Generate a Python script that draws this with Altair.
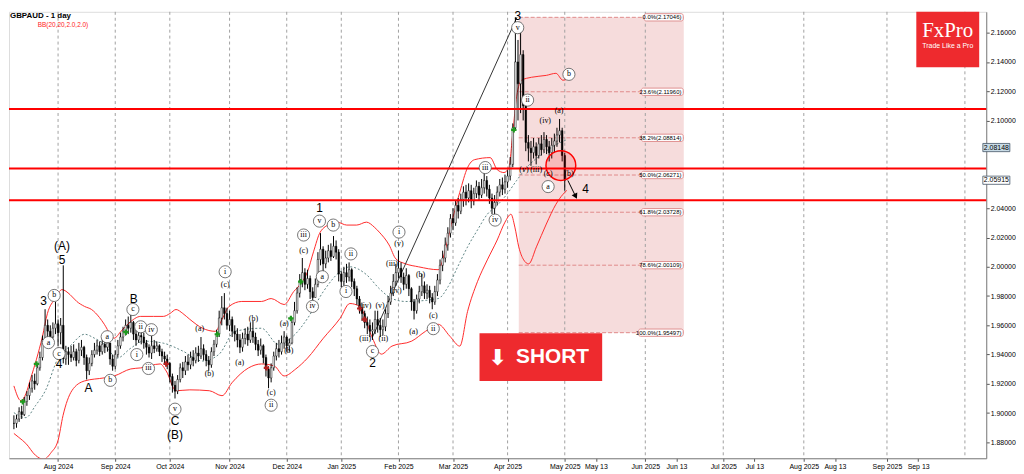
import altair as alt
import pandas as pd

# ---------------- data ----------------
BAR0 = 3  # index of first drawn daily bar
closes = [
    1.8930, 1.8960, 1.9010, 1.8990, 1.9080, 1.9120, 1.9170, 1.9220, 1.9200, 1.9310,
    1.9380, 1.9500, 1.9600, 1.9560, 1.9520, 1.9580, 1.9610, 1.9550, 1.9600, 1.9370,
    1.9420, 1.9400, 1.9380, 1.9420, 1.9360, 1.9430, 1.9450, 1.9380, 1.9290, 1.9340,
    1.9400, 1.9430, 1.9460, 1.9420, 1.9470, 1.9450, 1.9480, 1.9370, 1.9320, 1.9400,
    1.9460, 1.9520, 1.9560, 1.9600, 1.9580, 1.9620, 1.9540, 1.9500, 1.9530, 1.9520,
    1.9480, 1.9450, 1.9410, 1.9460, 1.9440, 1.9460, 1.9420, 1.9390, 1.9370, 1.9340,
    1.9250, 1.9190, 1.9150, 1.9230, 1.9310, 1.9290, 1.9350, 1.9330, 1.9380, 1.9360,
    1.9410, 1.9390, 1.9440, 1.9400, 1.9360, 1.9330, 1.9420, 1.9470, 1.9540, 1.9650,
    1.9720, 1.9680, 1.9600, 1.9640, 1.9560, 1.9540, 1.9500, 1.9450, 1.9510, 1.9540,
    1.9500, 1.9560, 1.9520, 1.9470, 1.9430, 1.9460, 1.9380, 1.9300, 1.9240, 1.9310,
    1.9390, 1.9440, 1.9420, 1.9480, 1.9520, 1.9460, 1.9480, 1.9620, 1.9700, 1.9820,
    1.9900, 1.9960, 1.9880, 1.9920, 1.9830, 1.9790, 1.9880, 2.0050, 2.0120, 2.0020,
    2.0060, 2.0110, 2.0070, 2.0140, 2.0100, 1.9950, 1.9900, 1.9960, 1.9930, 1.9980,
    1.9900, 1.9850, 1.9780, 1.9720, 1.9680, 1.9620, 1.9600, 1.9560, 1.9570, 1.9640,
    1.9600, 1.9570, 1.9590, 1.9680, 1.9760, 1.9820, 1.9900, 1.9960, 1.9990, 1.9930,
    1.9880, 1.9940, 1.9850, 1.9760, 1.9700, 1.9780, 1.9830, 1.9870, 1.9820, 1.9840,
    1.9790, 1.9760, 1.9830, 1.9910, 2.0010, 2.0060, 2.0150, 2.0230, 2.0330, 2.0300,
    2.0420, 2.0380, 2.0460, 2.0510, 2.0470, 2.0520, 2.0450, 2.0500, 2.0550, 2.0490,
    2.0540, 2.0590, 2.0530, 2.0470, 2.0400, 2.0440, 2.0510, 2.0560, 2.0530, 2.0580,
    2.0620, 2.0700, 2.0950, 2.1400, 2.1250, 2.1450, 2.1100, 2.0850, 2.0810, 2.0780,
    2.0820, 2.0760, 2.0840, 2.0800, 2.0870, 2.0820, 2.0780, 2.0830, 2.0860, 2.0900,
    2.0930, 2.0760, 2.0592,
]
highs = [
    1.8985, 1.8990, 1.9040, 1.9050, 1.9110, 1.9150, 1.9210, 1.9260, 1.9270, 1.9340,
    1.9420, 1.9530, 1.9710, 1.9640, 1.9600, 1.9620, 1.9760, 1.9640, 1.9650, 2.0010,
    1.9460, 1.9450, 1.9460, 1.9470, 1.9440, 1.9480, 1.9500, 1.9460, 1.9400, 1.9380,
    1.9430, 1.9480, 1.9500, 1.9490, 1.9510, 1.9520, 1.9530, 1.9480, 1.9400, 1.9430,
    1.9500, 1.9550, 1.9590, 1.9640, 1.9660, 1.9680, 1.9630, 1.9570, 1.9570, 1.9560,
    1.9550, 1.9500, 1.9470, 1.9530, 1.9500, 1.9490, 1.9470, 1.9440, 1.9420, 1.9400,
    1.9350, 1.9270, 1.9220, 1.9260, 1.9340, 1.9350, 1.9390, 1.9400, 1.9420, 1.9430,
    1.9450, 1.9460, 1.9520, 1.9470, 1.9430, 1.9390, 1.9450, 1.9500, 1.9570, 1.9700,
    1.9800, 1.9820, 1.9720, 1.9700, 1.9660, 1.9600, 1.9580, 1.9540, 1.9550, 1.9580,
    1.9590, 1.9620, 1.9630, 1.9550, 1.9500, 1.9510, 1.9470, 1.9400, 1.9320, 1.9340,
    1.9420, 1.9480, 1.9500, 1.9530, 1.9560, 1.9530, 1.9510, 1.9650, 1.9760, 1.9860,
    1.9950, 2.0060, 1.9990, 1.9980, 1.9940, 1.9860, 1.9920, 2.0100, 2.0230, 2.0140,
    2.0110, 2.0150, 2.0160, 2.0210, 2.0180, 2.0120, 1.9970, 2.0000, 2.0020, 2.0030,
    1.9990, 1.9920, 1.9870, 1.9800, 1.9750, 1.9700, 1.9660, 1.9640, 1.9620, 1.9700,
    1.9700, 1.9650, 1.9640, 1.9710, 1.9800, 1.9870, 1.9950, 2.0020, 2.0110, 2.0030,
    1.9960, 1.9990, 1.9950, 1.9860, 1.9780, 1.9810, 1.9870, 1.9950, 1.9900, 1.9880,
    1.9870, 1.9820, 1.9870, 1.9950, 2.0050, 2.0110, 2.0200, 2.0270, 2.0360, 2.0400,
    2.0450, 2.0470, 2.0500, 2.0550, 2.0560, 2.0570, 2.0560, 2.0540, 2.0590, 2.0580,
    2.0600, 2.0650, 2.0620, 2.0560, 2.0500, 2.0490, 2.0550, 2.0600, 2.0610, 2.0630,
    2.0660, 2.0750, 2.0980, 2.1705, 2.1550, 2.1650, 2.1480, 2.1130, 2.0900, 2.0860,
    2.0880, 2.0850, 2.0880, 2.0900, 2.0920, 2.0900, 2.0860, 2.0880, 2.0910, 2.0950,
    2.1010, 2.0950, 2.0780,
]
lows = [
    1.8890, 1.8900, 1.8940, 1.8960, 1.8980, 1.9050, 1.9090, 1.9140, 1.9160, 1.9190,
    1.9290, 1.9360, 1.9480, 1.9520, 1.9490, 1.9500, 1.9540, 1.9460, 1.9470, 1.9340,
    1.9330, 1.9330, 1.9350, 1.9360, 1.9320, 1.9340, 1.9390, 1.9330, 1.9230, 1.9260,
    1.9320, 1.9380, 1.9400, 1.9390, 1.9400, 1.9410, 1.9420, 1.9330, 1.9290, 1.9300,
    1.9380, 1.9440, 1.9490, 1.9530, 1.9540, 1.9550, 1.9500, 1.9460, 1.9480, 1.9470,
    1.9440, 1.9400, 1.9380, 1.9370, 1.9410, 1.9420, 1.9390, 1.9350, 1.9340, 1.9300,
    1.9210, 1.9140, 1.9100, 1.9130, 1.9210, 1.9240, 1.9260, 1.9290, 1.9300, 1.9320,
    1.9340, 1.9350, 1.9370, 1.9360, 1.9320, 1.9290, 1.9310, 1.9390, 1.9450, 1.9520,
    1.9600, 1.9640, 1.9570, 1.9560, 1.9520, 1.9490, 1.9450, 1.9410, 1.9420, 1.9470,
    1.9460, 1.9480, 1.9480, 1.9430, 1.9390, 1.9400, 1.9340, 1.9250, 1.9170, 1.9210,
    1.9290, 1.9360, 1.9380, 1.9400, 1.9440, 1.9420, 1.9420, 1.9470, 1.9600, 1.9680,
    1.9790, 1.9860, 1.9840, 1.9850, 1.9780, 1.9760, 1.9790, 1.9860, 2.0010, 1.9970,
    1.9990, 2.0030, 2.0040, 2.0060, 2.0050, 1.9900, 1.9860, 1.9870, 1.9890, 1.9900,
    1.9860, 1.9800, 1.9740, 1.9680, 1.9630, 1.9580, 1.9540, 1.9520, 1.9500, 1.9540,
    1.9550, 1.9520, 1.9530, 1.9560, 1.9650, 1.9740, 1.9800, 1.9870, 1.9920, 1.9890,
    1.9840, 1.9850, 1.9800, 1.9700, 1.9640, 1.9680, 1.9750, 1.9800, 1.9780, 1.9780,
    1.9750, 1.9710, 1.9740, 1.9800, 1.9880, 1.9970, 2.0030, 2.0110, 2.0200, 2.0250,
    2.0280, 2.0330, 2.0360, 2.0410, 2.0420, 2.0440, 2.0400, 2.0420, 2.0470, 2.0450,
    2.0470, 2.0500, 2.0480, 2.0430, 2.0360, 2.0350, 2.0420, 2.0480, 2.0490, 2.0500,
    2.0540, 2.0590, 2.0680, 2.0930, 2.1000, 2.1050, 2.1000, 2.0790, 2.0720, 2.0690,
    2.0740, 2.0700, 2.0740, 2.0760, 2.0780, 2.0770, 2.0720, 2.0740, 2.0780, 2.0820,
    2.0850, 2.0720, 2.0520,
]

# Bollinger band (20, 2.0): bar position, price
bb_up_x = [3.0, 5.7, 7.6, 9.4, 11.7, 14.0, 15.9, 18.9, 21.5, 24.6, 27.2, 30.2, 32.9, 35.9, 37.8,
           40.1, 41.6, 44.2, 47.2, 51.8, 56.7, 60.5, 63.1, 65.4, 68.0, 70.7, 75.6, 80.5, 83.1,
           85.8, 90.7, 98.3, 102.0, 107.0, 110.7, 113.4, 116.0, 118.3, 120.9, 124.7, 127.4,
           131.1, 134.9, 138.7, 141.7, 143.6, 147.4, 150.0, 153.8, 158.7, 166.3, 169.3, 172.0,
           174.6, 177.6, 180.3, 186.3, 189.0, 191.6, 193.5, 195.0, 196.5, 198.4, 202.2, 207.9,
           211.6, 214.3, 215.8]
bb_up_y = [1.9186, 1.9085, 1.9132, 1.9234, 1.9369, 1.9525, 1.9681, 1.9783, 1.9844, 1.9810, 1.9763,
           1.9729, 1.9708, 1.9654, 1.9607, 1.9539, 1.9512, 1.9559, 1.9614, 1.9661, 1.9661, 1.9661,
           1.9681, 1.9708, 1.9681, 1.9641, 1.9580, 1.9559, 1.9641, 1.9729, 1.9763, 1.9763, 1.9783,
           1.9742, 1.9831, 1.9885, 1.9966, 2.0102, 2.0237, 2.0292, 2.0305, 2.0285, 2.0285, 2.0305,
           2.0271, 2.0237, 2.0149, 2.0054, 2.0020, 2.0000, 1.9980, 2.0136, 2.0339, 2.0509, 2.0678,
           2.0732, 2.0746, 2.0664, 2.0644, 2.0678, 2.0915, 2.1166, 2.1275, 2.1295, 2.1308, 2.1322,
           2.1275, 2.1281]
bb_mid_x = [3.0, 7.6, 11.3, 15.1, 20.0, 24.6, 30.2, 34.0, 37.8, 42.7, 48.0, 52.9, 60.5, 68.0, 75.6,
            82.0, 88.1, 98.3, 104.7, 109.6, 116.0, 122.1, 128.5, 132.3, 138.7, 143.6, 148.5,
            153.8, 166.3, 170.1, 173.8, 177.6, 181.4, 185.2, 189.0, 192.7, 196.5, 200.3, 206.0,
            211.6, 215.8]
bb_mid_y = [1.9003, 1.8969, 1.9051, 1.9153, 1.9376, 1.9458, 1.9539, 1.9512, 1.9471, 1.9376, 1.9444,
            1.9492, 1.9478, 1.9424, 1.9356, 1.9403, 1.9559, 1.9580, 1.9471, 1.9512, 1.9647, 1.9831,
            1.9966, 2.0000, 1.9946, 1.9851, 1.9783, 1.9763, 1.9783, 1.9864, 2.0000, 2.0136, 2.0251,
            2.0359, 2.0420, 2.0495, 2.0590, 2.0678, 2.0766, 2.0834, 2.0868]
bb_lo_x = [3.0, 4.9, 7.6, 11.3, 14.4, 17.4, 20.0, 21.9, 25.3, 30.2, 37.8, 41.6, 48.0, 51.8, 59.3,
           61.6, 65.4, 70.7, 78.2, 83.1, 86.9, 93.3, 98.3, 103.2, 107.0, 111.5, 116.0, 122.1,
           128.5, 132.3, 136.1, 141.0, 144.4, 148.5, 156.1, 161.4, 166.3, 170.8, 174.6, 177.6,
           181.4, 185.2, 189.0, 192.0, 194.3, 195.8, 197.3, 199.2, 201.1, 204.1, 207.9, 211.6,
           214.3, 215.8]
bb_lo_y = [1.8861, 1.8834, 1.8793, 1.8712, 1.8685, 1.8732, 1.8814, 1.8983, 1.9153, 1.9220, 1.9241,
           1.9254, 1.9302, 1.9309, 1.9336, 1.9288, 1.9153, 1.9159, 1.9153, 1.9119, 1.9207, 1.9309,
           1.9336, 1.9322, 1.9254, 1.9302, 1.9376, 1.9512, 1.9647, 1.9749, 1.9729, 1.9512, 1.9403,
           1.9458, 1.9492, 1.9559, 1.9607, 1.9525, 1.9458, 1.9695, 1.9898, 2.0047, 2.0183, 2.0305,
           2.0359, 2.0271, 2.0136, 2.0047, 2.0020, 2.0136, 2.0292, 2.0427, 2.0495, 2.0522]

# axis ticks (bar positions) and labels
x_ticks = [20, 42, 63, 86, 108, 129, 151, 172, 193, 215, 227, 246, 258, 276, 288, 307, 319, 339, 351]
x_labels = ["Aug 2024", "Sep 2024", "Oct 2024", "Nov 2024", "Dec 2024", "Jan 2025", "Feb 2025",
            "Mar 2025", "Apr 2025", "May 2025", "May 13", "Jun 2025", "Jun 13", "Jul 2025",
            "Jul 13", "Aug 2025", "Aug 13", "Sep 2025", "Sep 13"]
grid_ticks = [20, 42, 63, 86, 108, 129, 151, 172, 193, 215, 246, 276, 307, 339, 369]
y_ticks = [1.88, 1.90, 1.92, 1.94, 1.96, 1.98, 2.00, 2.02, 2.04, 2.10, 2.12, 2.14, 2.16]

# horizontal levels
h_levels = [2.1078, 2.0671, 2.0454]
fib_names = ["0.0%", "23.6%", "38.2%", "50.0%", "61.8%", "78.6%", "100.0%"]
fib_values = [2.17046, 2.11960, 2.08814, 2.06271, 2.03728, 2.00109, 1.95497]
fib_from, fib_to = 197.3, 260.8

# wave labels: text, bar position, price, kind
wave_text = ["3", "(A)", "5", "4", "A", "B", "C", "(B)", "1", "2", "3", "4",
             "b", "a", "c", "a", "b", "c", "i", "ii", "iii", "iv", "v", "i", "ii", "iii", "v",
             "a", "iv", "b", "i", "ii", "c", "i", "ii", "iii", "iv", "v", "ii", "a", "b",
             "(a)", "(b)", "(c)", "(a)", "(b)", "(c)", "(a)", "(b)", "(c)", "(iv)", "(v)",
             "(iii)", "(ii)", "(iii)", "(v)", "(iv)", "(a)", "(b)", "(c)", "(v)", "(iii)",
             "(iv)", "(c)", "(a)", "(b)"]
wave_b = [14.4, 21.5, 21.5, 20.4, 31.7, 49.1, 65.0, 65.0, 120.6, 141.0, 196.9, 223.0,
          18.5, 16.3, 20.4, 38.9, 40.1, 48.8, 50.3, 51.8, 54.8, 55.9, 65.0, 84.3, 102.0, 114.5,
          120.6, 121.7, 117.9, 125.9, 130.8, 132.7, 141.0, 151.2, 164.4, 184.4, 188.2, 196.9,
          200.7, 208.6, 216.6,
          74.5, 78.2, 84.3, 89.9, 95.2, 102.0, 107.0, 108.8, 114.5, 138.4, 143.9, 138.2, 145.2,
          148.5, 151.2, 150.0, 156.8, 159.5, 164.4, 199.3, 204.0, 207.5, 208.6, 212.8, 216.6]
wave_p = [1.9763, 2.0143, 2.0047, 1.9333, 1.9170, 1.9783, 1.8946, 1.8851, 2.0400, 1.9339, 2.1715,
          2.0529,
          1.9804, 1.9482, 1.9407, 1.9522, 1.9224, 1.9708, 1.9400, 1.9590, 1.9305, 1.9570, 1.9027,
          1.9966, 1.9054, 2.0217, 2.0312, 1.9932, 1.9729, 2.0285, 1.9831, 2.0088, 1.9421, 2.0237,
          1.9577, 2.0678, 2.0319, 2.1634, 2.1139, 2.0548, 2.1315,
          1.9577, 1.9265, 1.9878, 1.9339, 1.9641, 1.9136, 1.9607, 1.9421, 2.0108, 1.9729, 1.9729,
          1.9509, 1.9509, 2.0020, 2.0156, 1.9831, 1.9556, 1.9946, 1.9661, 2.0664, 2.0658, 2.0997,
          2.0631, 2.1064, 2.0631]
wave_kind = ["big"] * 12 + ["circ"] * 29 + ["paren"] * 25

buy_b = [6.4, 11.7, 46.1, 81.3, 109.6, 113.4, 195.4]
buy_p = [1.9078, 1.9336, 1.9553, 1.9539, 1.9647, 1.9898, 2.0936]
sell_b = [61.6, 100.2, 136.1, 137.9]
sell_p = [1.9336, 1.9309, 1.9715, 1.9641]

trend_b = [141.0, 196.6]
trend_p = [1.9520, 2.1705]
arrow_b = [216.2, 219.2]
arrow_p = [2.0590, 2.0481]
focus_b, focus_p = 213.5, 2.0692

price_tags = ["2.08148", "2.05915"]
price_vals = [2.08148, 2.05915]

# ---------------- chart ----------------
PLOT_W, PLOT_H = 985, 450
XS = alt.Scale(domain=[3.02, 375.3], nice=False, zero=False)
YS = alt.Scale(domain=[1.86915, 2.17424], nice=False, zero=False)

label_expr = " : ".join(f"datum.value == {t} ? '{l}'" for t, l in zip(x_ticks, x_labels)) + " : ''"
x_axis = alt.Axis(values=x_ticks, labelExpr=label_expr, grid=False, tickSize=3, tickColor="#555555",
                  labelFontSize=7, labelFont="Liberation Sans", labelColor="#000000", labelPadding=1,
                  domainColor="#808080", title=None, labelOverlap=False, labelFlush=False)
y_axis = alt.Axis(orient="right", values=y_ticks, format=".5f", grid=False, tickSize=3,
                  tickColor="#555555", labelFontSize=7, labelFont="Liberation Sans",
                  labelColor="#000000", labelPadding=1, domainColor="#808080", title=None,
                  labelOverlap=False, labelFlush=False)


def X(f):
    return alt.X(f, type="quantitative", scale=XS, axis=x_axis)


def Y(f):
    return alt.Y(f, type="quantitative", scale=YS, axis=y_axis)


n = len(closes)
df = pd.DataFrame({"i": [BAR0 + k for k in range(n)], "close": closes, "high": highs, "low": lows})
df["open"] = df["close"].shift(1).fillna(df["close"])
df["hi"] = df[["high", "open", "close"]].max(axis=1)
df["lo"] = df[["low", "open", "close"]].min(axis=1)

fib = pd.DataFrame({"name": fib_names, "v": fib_values})
fib["label"] = fib["name"] + "(" + fib["v"].map(lambda v: f"{v:.5f}") + ")"
fib["x0"] = fib_from
fib["x1"] = fib_to
fib_box = pd.DataFrame({"x0": [fib_from], "x1": [fib_to], "y0": [min(fib_values)], "y1": [max(fib_values)]})

grid = alt.Chart(pd.DataFrame({"t": grid_ticks})).mark_rule(
    color="#a0a0a0", strokeDash=[3, 3], strokeWidth=1).encode(x=X("t:Q"))

fib_area = alt.Chart(fib_box).mark_rect(fill="#f6dcdc").encode(
    x=X("x0:Q"), x2="x1:Q", y=Y("y0:Q"), y2="y1:Q")
fib_lines = alt.Chart(fib).mark_rule(color="#e08a8a", strokeDash=[4, 2], strokeWidth=1).encode(
    x=X("x0:Q"), x2="x1:Q", y=Y("v:Q"))
fib_tag_box = alt.Chart(fib).transform_calculate(
    bx0="260.4 - length(datum.label) * 1.08 - 0.8", bx1="260.6",
    by0="datum.v - 0.0025", by1="datum.v + 0.0025").mark_rect(
    fill="white", stroke="#e09090", strokeWidth=1, cornerRadius=2).encode(
    x=X("bx0:Q"), x2="bx1:Q", y=Y("by0:Q"), y2="by1:Q")
fib_tag_txt = alt.Chart(fib).transform_calculate(tx="259.9").mark_text(
    align="right", baseline="middle", fontSize=6, font="Liberation Sans", color="#000000").encode(
    x=X("tx:Q"), y=Y("v:Q"), text="label:N")

band_up = alt.Chart(pd.DataFrame({"b": bb_up_x, "p": bb_up_y})).mark_line(
    color="#ff2a2a", strokeWidth=1, interpolate="monotone", clip=True).encode(x=X("b:Q"), y=Y("p:Q"))
band_lo = alt.Chart(pd.DataFrame({"b": bb_lo_x, "p": bb_lo_y})).mark_line(
    color="#ff2a2a", strokeWidth=1, interpolate="monotone", clip=True).encode(x=X("b:Q"), y=Y("p:Q"))
band_mid = alt.Chart(pd.DataFrame({"b": bb_mid_x, "p": bb_mid_y})).mark_line(
    color="#5f8585", strokeWidth=1, strokeDash=[2, 2], interpolate="monotone", clip=True).encode(
    x=X("b:Q"), y=Y("p:Q"))

trend = alt.Chart(pd.DataFrame({"b": trend_b, "p": trend_p})).mark_line(
    color="#333333", strokeWidth=1).encode(x=X("b:Q"), y=Y("p:Q"))

wick = alt.Chart(df).mark_rule(color="#000000", strokeWidth=1, clip=True).encode(
    x=X("i:Q"), y=Y("lo:Q"), y2="hi:Q")
body = alt.Chart(df).mark_bar(size=1.6, stroke="#000000", strokeWidth=0.5, clip=True).encode(
    x=X("i:Q"), y=Y("open:Q"), y2="close:Q",
    fill=alt.condition("datum.close >= datum.open", alt.value("#ffffff"), alt.value("#000000")))

hl = alt.Chart(pd.DataFrame({"p": h_levels})).mark_rule(color="#ff0000", strokeWidth=2).encode(
    y=Y("p:Q"))

focus = alt.Chart(pd.DataFrame({"b": [focus_b], "p": [focus_p]})).mark_point(
    shape="circle", size=900, filled=True, fill="#ff0000", fillOpacity=0.15,
    stroke="#ff0000", strokeWidth=1.5, strokeOpacity=1).encode(x=X("b:Q"), y=Y("p:Q"))

arrow_df = pd.DataFrame({"b": arrow_b, "p": arrow_p})
arrow_line = alt.Chart(arrow_df).mark_line(color="#000000", strokeWidth=1).encode(
    x=X("b:Q"), y=Y("p:Q"))
arrow_head = alt.Chart(arrow_df.tail(1)).mark_point(
    shape="triangle-up", angle=154, size=40, filled=True, color="#000000", opacity=1).encode(
    x=X("b:Q"), y=Y("p:Q"))

waves = pd.DataFrame({"t": wave_text, "b": wave_b, "p": wave_p, "k": wave_kind})
circ = alt.Chart(waves).transform_filter("datum.k == 'circ'").mark_point(
    shape="circle", size=150, filled=True, fill="#ffffff", stroke="#555555", strokeWidth=0.8,
    opacity=1).encode(x=X("b:Q"), y=Y("p:Q"))
circ_txt = alt.Chart(waves).transform_filter("datum.k == 'circ'").mark_text(
    fontSize=8, font="Liberation Serif", color="#000000", baseline="middle", align="center").encode(
    x=X("b:Q"), y=Y("p:Q"), text="t:N")
paren_txt = alt.Chart(waves).transform_filter("datum.k == 'paren'").mark_text(
    fontSize=8, font="Liberation Serif", color="#000000", baseline="middle", align="center").encode(
    x=X("b:Q"), y=Y("p:Q"), text="t:N")
big_txt = alt.Chart(waves).transform_filter("datum.k == 'big'").mark_text(
    fontSize=12, font="Liberation Sans", color="#000000", baseline="middle", align="center").encode(
    x=X("b:Q"), y=Y("p:Q"), text="t:N")

buys = alt.Chart(pd.DataFrame({"b": buy_b, "p": buy_p})).mark_point(
    shape="cross", size=30, filled=True, color="#1f9a1f", opacity=1).encode(x=X("b:Q"), y=Y("p:Q"))
sells = alt.Chart(pd.DataFrame({"b": sell_b, "p": sell_p})).mark_point(
    shape="cross", size=30, filled=True, color="#b42020", opacity=1).encode(x=X("b:Q"), y=Y("p:Q"))

short_box = alt.Chart(pd.DataFrame({"x0": [182.2], "x1": [229.4], "y0": [1.9220], "y1": [1.9546]})).mark_rect(
    fill="#ee2a2e").encode(x=X("x0:Q"), x2="x1:Q", y=Y("y0:Q"), y2="y1:Q")
short_arrow = alt.Chart(pd.DataFrame({"b": [189.2], "p": [1.9378], "t": ["⬇"]})).mark_text(
    fontSize=22, font="DejaVu Sans", fontWeight="bold", color="#ffffff", baseline="middle").encode(
    x=X("b:Q"), y=Y("p:Q"), text="t:N")
short_txt = alt.Chart(pd.DataFrame({"b": [210.3], "p": [1.9380], "t": ["SHORT"]})).mark_text(
    fontSize=21, font="Liberation Sans", fontWeight="bold", color="#ffffff", baseline="middle").encode(
    x=X("b:Q"), y=Y("p:Q"), text="t:N")

logo_box = alt.Chart(pd.DataFrame({"x0": [350.3], "x1": [374.5], "y0": [2.13627], "y1": [2.17424]})).mark_rect(
    fill="#ee2a2e").encode(x=X("x0:Q"), x2="x1:Q", y=Y("y0:Q"), y2="y1:Q")
logo_txt = alt.Chart(pd.DataFrame({"b": [362.4], "p": [2.1610], "t": ["FxPro"]})).mark_text(
    fontSize=21, font="Liberation Serif", color="#ffffff", baseline="middle").encode(
    x=X("b:Q"), y=Y("p:Q"), text="t:N")
logo_sub = alt.Chart(pd.DataFrame({"b": [362.4], "p": [2.1512], "t": ["Trade Like a Pro"]})).mark_text(
    fontSize=7, font="Liberation Sans", color="#ffffff", baseline="middle").encode(
    x=X("b:Q"), y=Y("p:Q"), text="t:N")

title = alt.Chart(pd.DataFrame({"t": ["GBPAUD - 1 day"]})).mark_text(
    align="left", baseline="top", fontSize=8, fontWeight="bold", font="Liberation Sans",
    color="#000000").encode(x=alt.value(1), y=alt.value(0), text="t:N")
subtitle = alt.Chart(pd.DataFrame({"t": ["BB(20,20,2.0,2.0)"]})).mark_text(
    align="left", baseline="top", fontSize=6.5, font="Liberation Sans",
    color="#ff2020").encode(x=alt.value(29), y=alt.value(10), text="t:N")

tags = pd.DataFrame({"t": price_tags, "p": price_vals, "fillc": ["#c8dbe6", "#ffffff"],
                     "x0": [375.9, 375.9], "x1": [386.3, 386.3], "xt": [381.1, 381.1]})
tag_box = alt.Chart(tags).transform_calculate(
    y0="datum.p - 0.0028", y1="datum.p + 0.0028").mark_rect(stroke="#445566", strokeWidth=0.8).encode(
    x=X("x0:Q"), x2="x1:Q", y=Y("y0:Q"), y2="y1:Q", fill=alt.Fill("fillc:N", scale=None))
tag_txt = alt.Chart(tags).mark_text(fontSize=7, font="Liberation Sans", color="#000000",
                                    baseline="middle").encode(x=X("xt:Q"), y=Y("p:Q"), text="t:N")

chart = alt.layer(
    fib_area, grid, fib_lines, band_up, band_lo, band_mid, trend, wick, body, hl, focus,
    arrow_line, arrow_head, circ, circ_txt, paren_txt, big_txt, buys, sells,
    fib_tag_box, fib_tag_txt, short_box, short_arrow, short_txt, logo_box, logo_txt, logo_sub,
    title, subtitle, tag_box, tag_txt,
).properties(width=PLOT_W, height=PLOT_H, padding=0).configure_view(
    stroke="#808080", strokeWidth=1).configure(background="#ffffff")

chart.save("out.html", embed_options={"renderer": "svg", "actions": False})
